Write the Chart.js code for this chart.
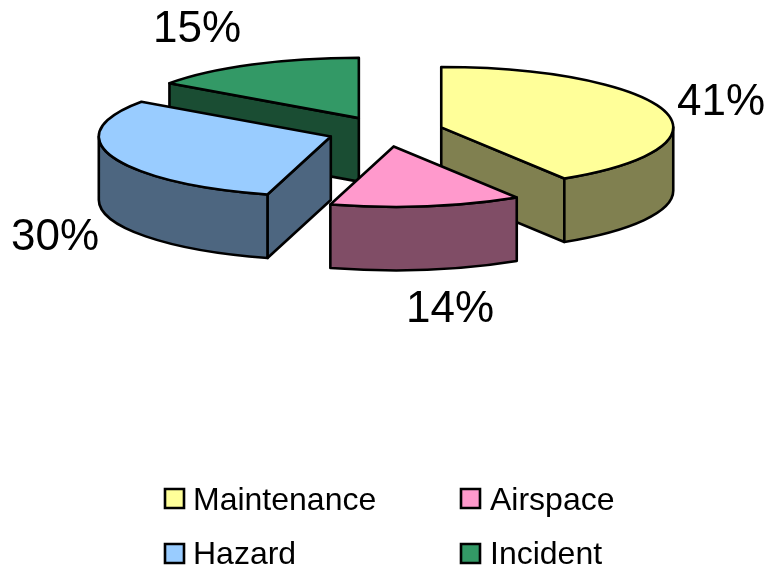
<!DOCTYPE html>
<html>
<head>
<meta charset="utf-8">
<style>
html,body{margin:0;padding:0;background:#fff}
#wrap{width:771px;height:572px}
canvas{display:block}
</style>
<script src="https://cdn.jsdelivr.net/npm/chart.js@4"></script>
</head>
<body>
<div id="wrap"><canvas id="c" width="771" height="572"></canvas></div>
<script>
const categories = ['Maintenance', 'Airspace', 'Hazard', 'Incident'];
const shares = [41.1, 13.3, 30.4, 15.2];
const percentLabels = ['41%', '14%', '30%', '15%'];
const topColors = ['#FFFF99', '#FF99CC', '#99CCFF', '#339966'];
const sideColors = ['#808050', '#804D66', '#4D6680', '#1A4D33'];

const FONT = '"Liberation Sans", Arial, sans-serif';
const TILT = 0.26, DEPTH = 63.5, PLANE_Y = 131.5, LINE = 2.6;
const labelAnchors = [[677, 115], [406, 322], [11, 250], [153, 42]];
const legendAnchors = [[164, 488, 193, 510], [460, 488, 490, 510], [164, 543, 193, 564], [460, 543, 490, 564]];

const pie3d = {
  id: 'pie3d',
  beforeDatasetDraw(chart, args) {
    const ctx = chart.ctx;
    const arcs = args.meta.data.map((arc, i) => {
      const p = arc.getProps(['x', 'startAngle', 'endAngle', 'outerRadius'], true);
      const mid = (p.startAngle + p.endAngle) / 2;
      const off = arc.options.offset / 4;
      return {i, a0: p.startAngle, a1: p.endAngle, r: p.outerRadius, mid,
        x: p.x + Math.cos(mid) * off,
        y: PLANE_Y + Math.sin(mid) * off * TILT};
    }).sort((a, b) => a.y - b.y);

    ctx.save();
    ctx.lineWidth = LINE;
    ctx.strokeStyle = '#000';
    ctx.lineJoin = 'round';
    const paint = (fill) => { ctx.fillStyle = fill; ctx.fill(); ctx.stroke(); };

    arcs.forEach(s => {
      const ry = s.r * TILT;
      const px = a => s.x + Math.cos(a) * s.r;
      const py = a => s.y + Math.sin(a) * ry;
      const side = sideColors[s.i];
      const radial = a => {
        ctx.beginPath();
        ctx.moveTo(s.x, s.y);
        ctx.lineTo(px(a), py(a));
        ctx.lineTo(px(a), py(a) + DEPTH);
        ctx.lineTo(s.x, s.y + DEPTH);
        ctx.closePath();
        paint(side);
      };
      if (Math.cos(s.a0) < -1e-6) radial(s.a0);
      if (Math.cos(s.a1) > 1e-6) radial(s.a1);
      const w0 = Math.max(s.a0, 0), w1 = Math.min(s.a1, Math.PI);
      if (w1 > w0) {
        ctx.beginPath();
        ctx.ellipse(s.x, s.y, s.r, ry, 0, w0, w1);
        ctx.lineTo(px(w1), py(w1) + DEPTH);
        ctx.ellipse(s.x, s.y + DEPTH, s.r, ry, 0, w1, w0, true);
        ctx.closePath();
        paint(side);
      }
      ctx.beginPath();
      ctx.moveTo(s.x, s.y);
      ctx.ellipse(s.x, s.y, s.r, ry, 0, s.a0, s.a1);
      ctx.closePath();
      paint(topColors[s.i]);
    });
    ctx.restore();
    return false;
  },
  afterDraw(chart) {
    const ctx = chart.ctx;
    ctx.save();
    ctx.fillStyle = '#000';
    ctx.textAlign = 'left';
    ctx.textBaseline = 'alphabetic';
    ctx.font = '44px ' + FONT;
    percentLabels.forEach((t, i) => ctx.fillText(t, labelAnchors[i][0], labelAnchors[i][1]));
    ctx.font = '32px ' + FONT;
    categories.forEach((name, i) => {
      const [bx, by, tx, ty] = legendAnchors[i];
      ctx.beginPath();
      ctx.rect(bx + 1, by + 1, 19, 19);
      ctx.fillStyle = topColors[i];
      ctx.fill();
      ctx.lineWidth = 2.6;
      ctx.strokeStyle = '#000';
      ctx.stroke();
      ctx.fillStyle = '#000';
      ctx.fillText(name, tx, ty);
    });
    ctx.restore();
  }
};

new Chart(document.getElementById('c'), {
  type: 'pie',
  data: {
    labels: categories,
    datasets: [{data: shares, backgroundColor: topColors, offset: 232, borderWidth: 0}]
  },
  options: {
    responsive: false,
    animation: false,
    radius: 232,
    layout: {padding: {bottom: 310}},
    plugins: {legend: {display: false}, tooltip: {enabled: false}}
  },
  plugins: [pie3d]
});
</script>
</body>
</html>
